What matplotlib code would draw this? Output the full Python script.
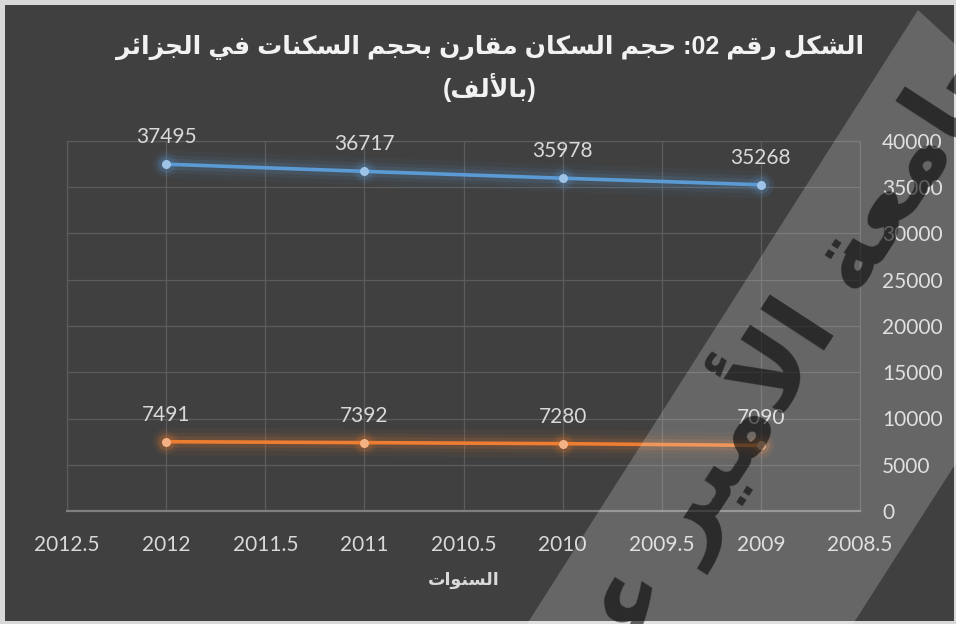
import re
import matplotlib.pyplot as plt
from matplotlib.patches import Polygon, Rectangle

# data
years = [2012, 2011, 2010, 2009]
population = [37495, 36717, 35978, 35268]   # السكان
housing = [7491, 7392, 7280, 7090]          # السكنات
x_ticks = [2012.5, 2012, 2011.5, 2011, 2010.5, 2010, 2009.5, 2009, 2008.5]
y_ticks = [0, 5000, 10000, 15000, 20000, 25000, 30000, 35000, 40000]

title_1 = 'الشكل رقم 02: حجم السكان مقارن بحجم السكنات في الجزائر'
title_2 = '(بالألف)'
x_title = 'السنوات'
watermark = 'جامعة الأمير عبد القادر'

# matplotlib has no arabic shaping, so pick the presentation forms by hand
FORMS = {
    'ا': ('\uFE8D', '\uFE8E', None, None),
    'أ': ('\uFE83', '\uFE84', None, None),
    'ب': ('\uFE8F', '\uFE90', '\uFE91', '\uFE92'),
    'ت': ('\uFE95', '\uFE96', '\uFE97', '\uFE98'),
    'ة': ('\uFE93', '\uFE94', None, None),
    'ج': ('\uFE9D', '\uFE9E', '\uFE9F', '\uFEA0'),
    'ح': ('\uFEA1', '\uFEA2', '\uFEA3', '\uFEA4'),
    'د': ('\uFEA9', '\uFEAA', None, None),
    'ر': ('\uFEAD', '\uFEAE', None, None),
    'ز': ('\uFEAF', '\uFEB0', None, None),
    'س': ('\uFEB1', '\uFEB2', '\uFEB3', '\uFEB4'),
    'ش': ('\uFEB5', '\uFEB6', '\uFEB7', '\uFEB8'),
    'ع': ('\uFEC9', '\uFECA', '\uFECB', '\uFECC'),
    'ف': ('\uFED1', '\uFED2', '\uFED3', '\uFED4'),
    'ق': ('\uFED5', '\uFED6', '\uFED7', '\uFED8'),
    'ك': ('\uFED9', '\uFEDA', '\uFEDB', '\uFEDC'),
    'ل': ('\uFEDD', '\uFEDE', '\uFEDF', '\uFEE0'),
    'م': ('\uFEE1', '\uFEE2', '\uFEE3', '\uFEE4'),
    'ن': ('\uFEE5', '\uFEE6', '\uFEE7', '\uFEE8'),
    'و': ('\uFEED', '\uFEEE', None, None),
    'ي': ('\uFEF1', '\uFEF2', '\uFEF3', '\uFEF4'),
    'ئ': ('\uFE89', '\uFE8A', '\uFE8B', '\uFE8C'),
}
LAMALEF = {'ا': ('\uFEFB', '\uFEFC'), 'أ': ('\uFEF7', '\uFEF8')}


def joins_left(c):
    return c in FORMS and FORMS[c][2] is not None


def shape(s):
    out = []
    i = 0
    while i < len(s):
        c = s[i]
        if c not in FORMS:
            out.append(c)
            i += 1
            continue
        jp = i > 0 and joins_left(s[i - 1])
        if c == 'ل' and i + 1 < len(s) and s[i + 1] in LAMALEF:
            out.append(LAMALEF[s[i + 1]][1 if jp else 0])
            i += 2
            continue
        jn = joins_left(c) and i + 1 < len(s) and s[i + 1] in FORMS
        iso, fin, ini, med = FORMS[c]
        if jp and jn:
            out.append(med)
        elif jp:
            out.append(fin)
        elif jn:
            out.append(ini)
        else:
            out.append(iso)
        i += 1
    return ''.join(out)


def visual(s):
    r = shape(s)[::-1]
    r = r.translate(str.maketrans('()', ')('))
    return re.sub(r'[0-9]+', lambda m: m.group(0)[::-1], r)


plt.rcParams['font.family'] = ['Lato', 'DejaVu Sans']

W, H = 956, 624
fig = plt.figure(figsize=(9.56, 6.24), dpi=100, facecolor='#d9d9d9')
fig.patches.append(Rectangle((5 / W, 3 / H), (W - 7) / W, (H - 8) / H,
                             transform=fig.transFigure, facecolor='#404040',
                             edgecolor='none', zorder=-1))

ax = fig.add_axes([67 / W, 1 - 511 / H, (860 - 67) / W, (511 - 141) / H])
ax.set_facecolor('#404040')

# lines with a soft glow
for vals, col, mcol in [(population, '#5b9bd5', '#9dc3e6'), (housing, '#ed7d31', '#f4b183')]:
    for lw, a in [(20, 0.05), (13, 0.08), (8, 0.13)]:
        ax.plot(years, vals, color=col, lw=lw, alpha=a, solid_capstyle='round', zorder=2)
    for ms, a in [(17, 0.08), (12, 0.15)]:
        ax.plot(years, vals, 'o', ms=ms, color=col, alpha=a, mew=0, zorder=2)
    ax.plot(years, vals, color=col, lw=2.6, zorder=3)
    ax.plot(years, vals, 'o', ms=6.5, color=mcol, mew=0, zorder=4)
    for x, v in zip(years, vals):
        ax.annotate(str(v), (x, v), xytext=(0, 19.5), textcoords='offset points',
                    ha='center', va='center', fontsize=15, color='#d9d9d9')

ax.set_xlim(2012.5, 2008.5)
ax.set_ylim(0, 40000)
ax.set_xticks(x_ticks)
ax.set_xticklabels(['%g' % t for t in x_ticks])
ax.set_yticks(y_ticks)
ax.yaxis.tick_right()
ax.tick_params(axis='both', length=0, colors='#d9d9d9', labelsize=15)
ax.tick_params(axis='x', pad=17)
ax.tick_params(axis='y', pad=16)
ax.grid(True, color='#5c5c5c', lw=0.9)
ax.set_axisbelow(True)
for s in ['left', 'top', 'right']:
    ax.spines[s].set_color('#5c5c5c')
    ax.spines[s].set_linewidth(0.9)
ax.spines['bottom'].set_color('#7f7f7f')
ax.spines['bottom'].set_linewidth(1.6)

ax.set_xlabel(visual(x_title), family='DejaVu Sans', fontsize=12.5, fontweight='bold',
              color='#d9d9d9', labelpad=12)

fig.text(490 / W, 1 - 47 / H, visual(title_1), ha='center', va='center',
         family=['Liberation Sans', 'DejaVu Sans'], fontsize=18, fontweight='bold', color='#f2f2f2')
fig.text(490 / W, 1 - 88 / H, visual(title_2), ha='center', va='center',
         family=['Liberation Sans', 'DejaVu Sans'], fontsize=18, fontweight='bold', color='#f2f2f2')

# light diagonal band and watermark lying over the chart
band = [(918, 10), (956, 45), (956, 463), (853, 624), (527, 624)]
fig.patches.append(Polygon([(px / W, 1 - py / H) for px, py in band], closed=True,
                           transform=fig.transFigure, facecolor='white', alpha=0.2,
                           edgecolor='none', zorder=5))
fig.text(681 / W, 1 - 512 / H, visual(watermark), rotation=57, rotation_mode='anchor',
         ha='center', va='center', family='DejaVu Sans', fontsize=72, fontweight='bold',
         color='black', alpha=0.58, zorder=6)

fig.savefig('out.png', dpi=100, facecolor=fig.get_facecolor())
